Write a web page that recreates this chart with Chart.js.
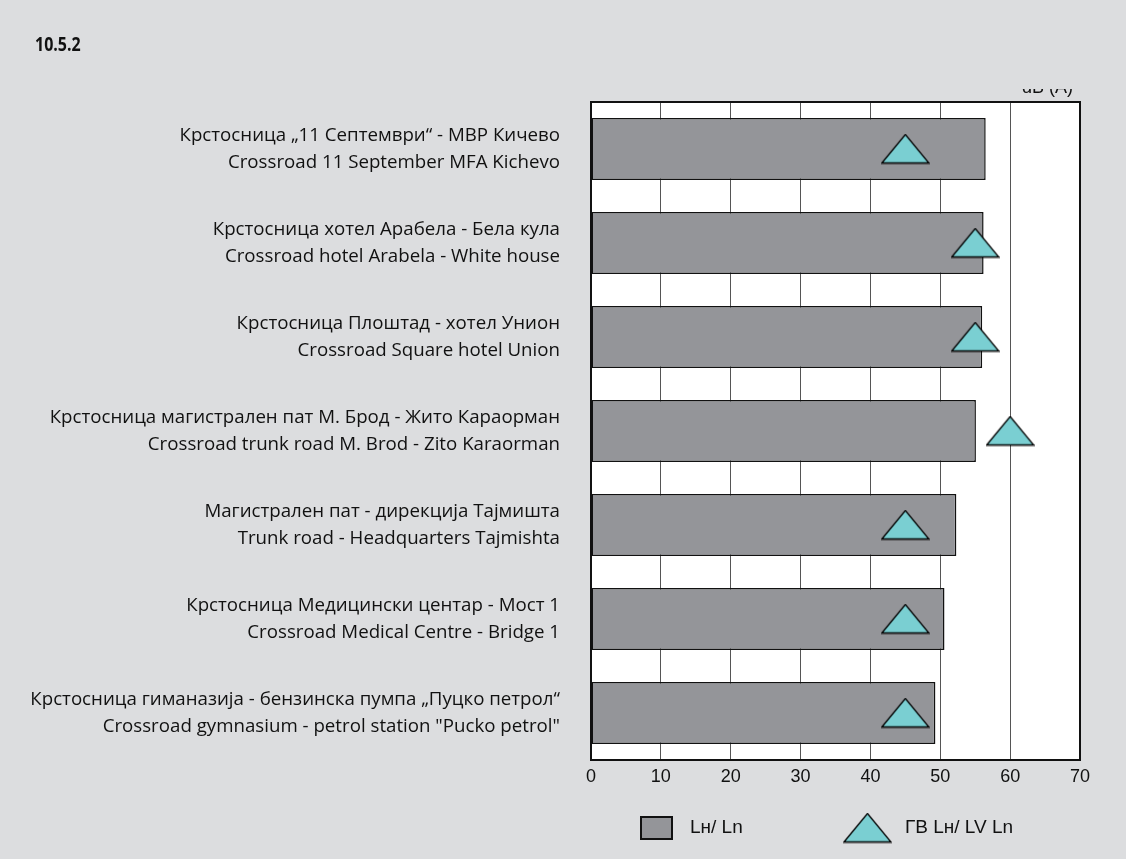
<!DOCTYPE html>
<html>
<head>
<meta charset="utf-8">
<script src="https://cdn.jsdelivr.net/npm/chart.js@4/dist/chart.umd.min.js"></script>
<style>
  html, body { margin: 0; padding: 0; background: #dcdddf; }
  #wrap { position: relative; width: 1126px; height: 859px; }
  #title { position: absolute; left: 35px; top: 30px; font: bold 20px "Open Sans"; color: #111;
           transform: scaleX(0.8); transform-origin: left top; }
</style>
</head>
<body>
<div id="wrap">
  <div id="title">10.5.2</div>
  <canvas id="chart" width="1126" height="859"></canvas>
</div>
<script>
// raskrsnici / crossroads
const categories = [
  ['Крстосница „11 Септември“ - МВР Кичево', 'Crossroad 11 September MFA Kichevo'],
  ['Крстосница хотел Арабела - Бела кула', 'Crossroad hotel Arabela - White house'],
  ['Крстосница Плоштад - хотел Унион', 'Crossroad Square hotel Union'],
  ['Крстосница магистрален пат М. Брод - Жито Караорман', 'Crossroad trunk road M. Brod - Zito Karaorman'],
  ['Магистрален пат - дирекција Тајмишта', 'Trunk road - Headquarters Tajmishta'],
  ['Крстосница Медицински центар - Мост 1', 'Crossroad Medical Centre - Bridge 1'],
  ['Крстосница гиманазија - бензинска пумпа „Пуцко петрол“', 'Crossroad gymnasium - petrol station "Pucko petrol"']
];
const lnValues = [56.5, 56.2, 56.0, 55.1, 52.3, 50.6, 49.3];   // Lн / Ln
const limitValues = [45, 55, 55, 60, 45, 45, 45];             // ГВ Lн / LV Ln
const xMin = 0, xMax = 70, xStep = 10;

const barColor = '#949599';
const triColor = '#7acfd2';

// triangle marker (wider than the built-in one)
function makeTriangle(w, h) {
  const c = document.createElement('canvas');
  c.width = w; c.height = h;
  const g = c.getContext('2d');
  g.beginPath();
  g.moveTo(1, h - 1.5);
  g.lineTo(w / 2, 1);
  g.lineTo(w - 1, h - 1.5);
  g.closePath();
  g.fillStyle = triColor;
  g.fill();
  g.lineWidth = 1.3;
  g.strokeStyle = '#000';
  g.stroke();
  return c;
}
function makeBox(w, h) {
  const c = document.createElement('canvas');
  c.width = w; c.height = h;
  const g = c.getContext('2d');
  g.fillStyle = barColor;
  g.fillRect(1, 1, w - 2, h - 2);
  g.lineWidth = 2;
  g.strokeStyle = '#111';
  g.strokeRect(1, 1, w - 2, h - 2);
  return c;
}
const triImg = makeTriangle(49, 31);

// white plot area + black frame + dB(A) label
const framePlugin = {
  id: 'frame',
  beforeDraw(chart) {
    const a = chart.chartArea, ctx = chart.ctx;
    ctx.save();
    ctx.fillStyle = '#fff';
    ctx.fillRect(a.left, a.top, a.right - a.left, a.bottom - a.top);
    // unit label, cut off at the top like in the original
    ctx.beginPath();
    ctx.rect(a.right - 80, 89, 90, 12);
    ctx.clip();
    ctx.font = '18px "Liberation Sans"';
    ctx.fillStyle = '#111';
    ctx.textAlign = 'right';
    ctx.textBaseline = 'alphabetic';
    ctx.fillText('dB (A)', a.right - 7, 93);
    ctx.restore();
  },
  afterDatasetsDraw(chart) {
    const a = chart.chartArea, ctx = chart.ctx;
    ctx.save();
    ctx.lineWidth = 2;
    ctx.strokeStyle = '#111';
    ctx.strokeRect(a.left, a.top, a.right - a.left, a.bottom - a.top);
    ctx.restore();
  }
};

// legend drawn under the axis
const legendPlugin = {
  id: 'bottomLegend',
  afterDraw(chart) {
    const ctx = chart.ctx;
    const items = [
      { img: makeBox(33, 24), x: 640, text: chart.data.datasets[0].label, tx: 690 },
      { img: triImg, x: 843, text: chart.data.datasets[1].label, tx: 905 }
    ];
    const cy = 828;
    ctx.save();
    ctx.font = '19px "Liberation Sans"';
    ctx.fillStyle = '#111';
    ctx.textBaseline = 'middle';
    items.forEach(it => {
      ctx.drawImage(it.img, it.x, cy - it.img.height / 2);
      ctx.fillText(it.text, it.tx, cy);
    });
    ctx.restore();
  }
};

new Chart(document.getElementById('chart'), {
  type: 'bar',
  data: {
    labels: categories,
    datasets: [
      {
        label: 'Lн/ Ln',
        data: lnValues,
        backgroundColor: barColor,
        borderColor: '#111',
        borderWidth: 1.5,
        borderSkipped: false,
        barPercentage: 0.66,
        categoryPercentage: 1,
        order: 1
      },
      {
        type: 'line',
        label: 'ГВ Lн/ LV Ln',
        indexAxis: 'y',
        data: limitValues,
        showLine: false,
        pointStyle: triImg,
        pointRadius: 5,
        pointHoverRadius: 5,
        clip: false,
        order: 0
      }
    ]
  },
  options: {
    indexAxis: 'y',
    responsive: false,
    animation: false,
    layout: { padding: { top: 102, right: 46, left: 0, bottom: 0 } },
    plugins: { legend: { display: false }, tooltip: { enabled: false } },
    scales: {
      x: {
        min: xMin, max: xMax,
        ticks: { stepSize: xStep, color: '#111', padding: 6, font: { family: 'Liberation Sans', size: 18 } },
        grid: { color: '#555', lineWidth: 1, drawTicks: false },
        border: { display: false },
        afterFit(scale) { scale.height = 99; }
      },
      y: {
        grid: { display: false, drawTicks: false },
        border: { display: false },
        ticks: { color: '#111', padding: 31, font: { family: 'Open Sans', size: 18.7, lineHeight: 1.45 } },
        afterFit(scale) { scale.width = 591; }
      }
    }
  },
  plugins: [framePlugin, legendPlugin]
});
</script>
</body>
</html>
